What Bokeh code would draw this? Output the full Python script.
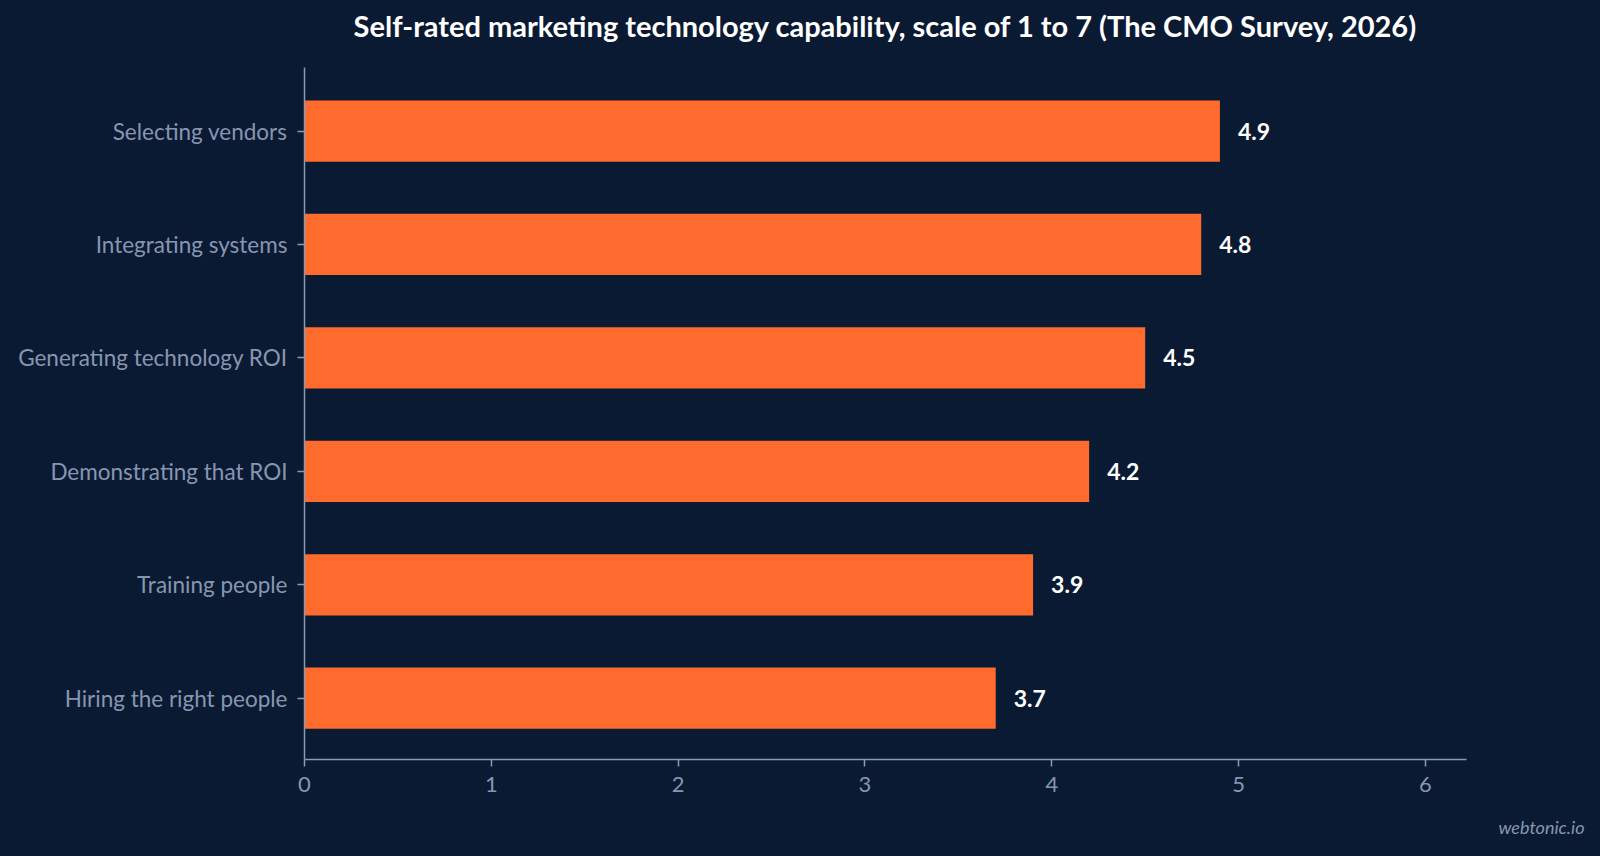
from bokeh.plotting import figure
from bokeh.models import Range1d, FixedTicker, Title, ColumnDataSource
from bokeh.core.properties import value
from bokeh.embed import file_html
from bokeh.resources import INLINE

categories = ["Hiring the right people", "Training people", "Demonstrating that ROI",
              "Generating technology ROI", "Integrating systems", "Selecting vendors"]
scores = [3.7, 3.9, 4.2, 4.5, 4.8, 4.9]
x_ticks = [0, 1, 2, 3, 4, 5, 6]
title_text = "Self-rated marketing technology capability, scale of 1 to 7 (The CMO Survey, 2026)"
watermark = "webtonic.io"

BG = "#0b1a33"
BAR = "#ff6b2d"
MUTED = "#8796b0"
AXIS = "#8a9ab4"

positions = list(range(len(categories)))
src = ColumnDataSource(dict(y=positions, v=scores, lab=[f"{s:.1f}" for s in scores]))

p = figure(width=1600, height=856, output_backend="svg", toolbar_location=None,
           x_range=Range1d(0, 6.22), y_range=Range1d(-0.54, len(categories) - 0.44),
           min_border_left=304, min_border_right=134, min_border_top=67, min_border_bottom=97,
           background_fill_color=BG, border_fill_color=BG, outline_line_color=None)

p.hbar(y="y", right="v", left=0, height=0.54, source=src, fill_color=BAR, line_color=None)
p.text(x="v", y="y", text="lab", source=src, x_offset=18, text_baseline="middle",
       text_align="left", text_color="#ffffff", text_font=value("Lato"),
       text_font_style="bold", text_font_size="23px")

# spacer between the frame and the main title
p.add_layout(Title(text=" ", text_font_size="1px", standoff=20), "above")

p.title.text = title_text
p.title.align = "center"
p.title.vertical_align = "bottom"
p.title.text_color = "#ffffff"
p.title.text_font = "Lato"
p.title.text_font_style = "bold"
p.title.text_font_size = "29px"
p.title.standoff = 4

p.grid.visible = False

p.xaxis.ticker = FixedTicker(ticks=x_ticks)
p.yaxis.ticker = FixedTicker(ticks=positions)
p.yaxis.major_label_overrides = {i: c for i, c in enumerate(categories)}
for ax in (p.xaxis[0], p.yaxis[0]):
    ax.axis_line_color = AXIS
    ax.axis_line_width = 1.5
    ax.major_tick_line_color = AXIS
    ax.major_tick_line_width = 1.5
    ax.major_tick_out = 7
    ax.major_tick_in = 0
    ax.minor_tick_line_color = None
    ax.major_label_text_color = MUTED
    ax.major_label_text_font = "Lato"
p.yaxis.major_label_text_font_size = "22.5px"
p.xaxis.major_label_text_font_size = "22px"
p.yaxis.major_label_standoff = 10
p.xaxis.major_label_standoff = 10

wm = Title(text=watermark, align="right", offset=-118, standoff=38,
           text_color=MUTED, text_font="Lato", text_font_style="italic",
           text_font_size="18px")
p.add_layout(wm, "below")

html = file_html(p, INLINE)
html = html.replace("</head>", "<style>html,body{background:%s;}</style></head>" % BG, 1)
open("out.html", "w").write(html)
